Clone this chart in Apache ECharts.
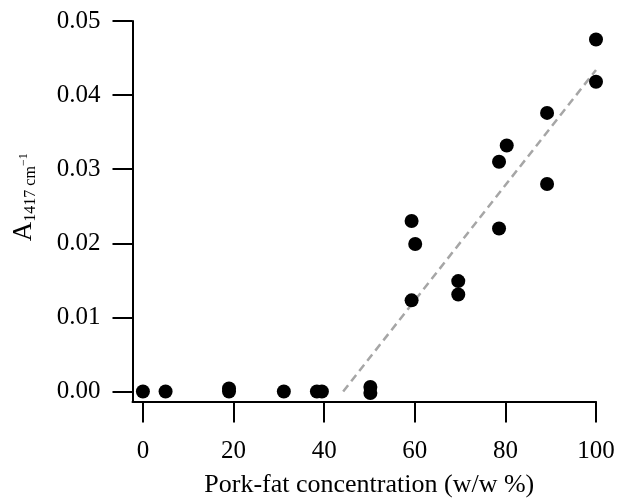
<!DOCTYPE html>
<html>
<head>
<meta charset="utf-8">
<script src="https://cdn.jsdelivr.net/npm/echarts@6/dist/echarts.min.js"></script>
<style>
html,body{margin:0;padding:0;background:#fff;}
#chart{width:618px;height:498px;}
</style>
</head>
<body>
<div id="chart"></div>
<script>
// measured samples: pork-fat concentration (w/w %) vs A1417
var fatPct = [0, 5, 19, 19, 31.1, 38.4, 39.5, 50.2, 50.2, 59.3, 60.1, 59.3, 69.6, 69.6, 78.6, 78.6, 80.3, 89.2, 89.2, 100, 100];
var absorb = [0, 0, 0.0004, 0, 0, 0, 0, 0.0006, -0.0002, 0.0230, 0.0199, 0.0123, 0.0149, 0.0131, 0.0310, 0.0220, 0.0332, 0.0376, 0.0280, 0.0475, 0.0418];
// fitted line end points
var fitX = [44.2, 100];
var fitY = [0, 0.0434];
var xTicks = [0, 20, 40, 60, 80, 100];
var yTicks = [0, 0.01, 0.02, 0.03, 0.04, 0.05];

var font = 'Liberation Serif';
var chart = echarts.init(document.getElementById('chart'));

var pts = fatPct.map(function (x, i) { return [x, absorb[i]]; });
var fit = fitX.map(function (x, i) { return [x, fitY[i]]; });

var option = {
    animation: false,
    grid: {left: 132.5, right: 22, top: 21, bottom: 96.5, outerBoundsMode: 'none', containLabel: false},
    xAxis: {
        type: 'value',
        min: -2.3,
        max: 100,
        splitLine: {show: false},
        axisLine: {onZero: false, lineStyle: {color: '#000', width: 2}},
        axisTick: {customValues: xTicks, length: 21, lineStyle: {color: '#000', width: 2}},
        axisLabel: {customValues: xTicks, margin: 37, color: '#000', fontFamily: font, fontSize: 25},
        name: 'Pork-fat concentration (w/w %)',
        nameLocation: 'middle',
        nameGap: 71,
        nameTextStyle: {color: '#000', fontFamily: font, fontSize: 26, padding: [0, 0, 0, 10]}
    },
    yAxis: {
        type: 'value',
        min: -0.00135,
        max: 0.05,
        splitLine: {show: false},
        axisLine: {onZero: false, lineStyle: {color: '#000', width: 2}},
        axisTick: {customValues: yTicks, length: 20, lineStyle: {color: '#000', width: 2}},
        axisLabel: {
            customValues: yTicks,
            margin: 32,
            color: '#000',
            fontFamily: font,
            fontSize: 25,
            formatter: function (v) { return v.toFixed(2); }
        },
        name: '{a|A}{sub|1417 cm}{sup|−1}',
        nameLocation: 'middle',
        nameGap: 94,
        nameTextStyle: {
            color: '#000',
            fontFamily: font,
            padding: [0, 0, 0, 28],
            rich: {
                a: {fontFamily: font, fontSize: 27, color: '#000', lineHeight: 30, verticalAlign: 'middle'},
                sub: {fontFamily: font, fontSize: 16, color: '#000', lineHeight: 30, verticalAlign: 'bottom'},
                sup: {fontFamily: font, fontSize: 12, color: '#000', lineHeight: 30, verticalAlign: 'middle'}
            }
        }
    },
    series: [
        {
            type: 'line',
            data: fit,
            symbol: 'none',
            silent: true,
            lineStyle: {color: '#a6a6a6', width: 2.5, type: [8, 5]},
            z: 1
        },
        {
            type: 'scatter',
            data: pts,
            symbol: 'circle',
            symbolSize: 14,
            itemStyle: {color: '#000', opacity: 1},
            z: 2
        }
    ]
};
chart.setOption(option);
</script>
</body>
</html>
